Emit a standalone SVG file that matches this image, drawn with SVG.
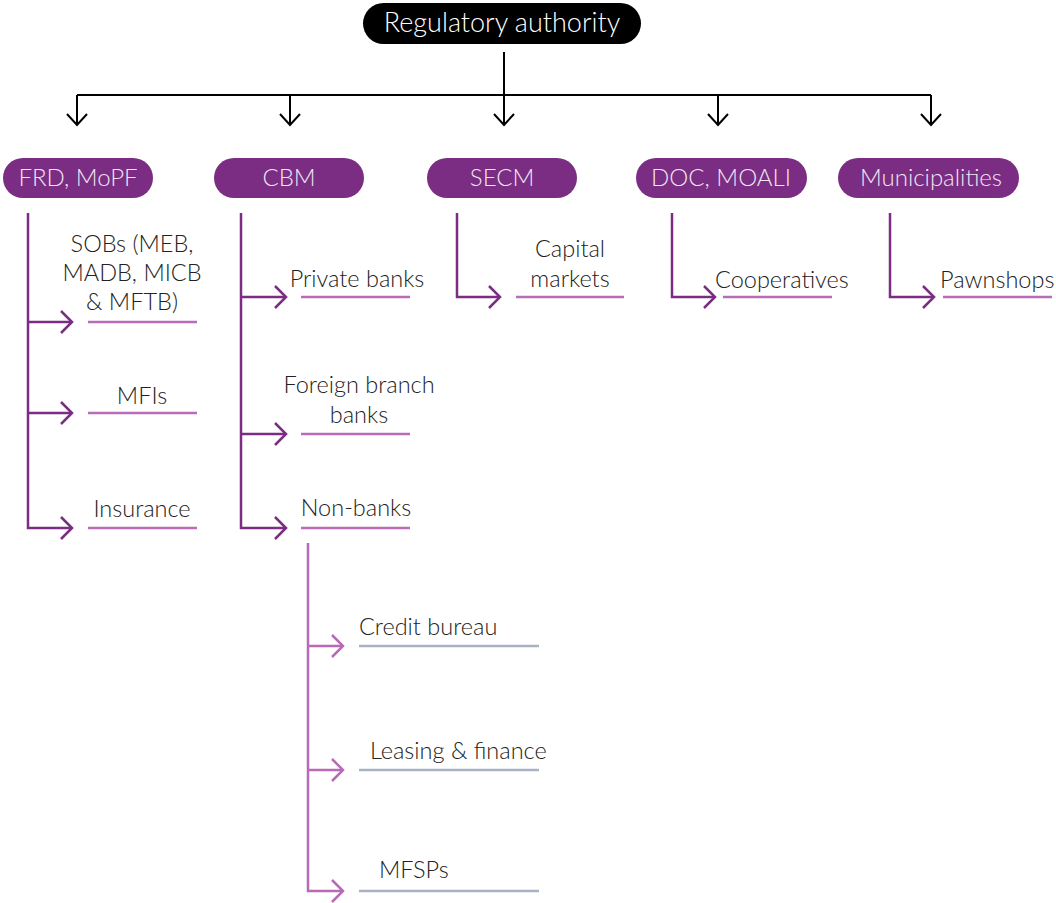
<svg xmlns="http://www.w3.org/2000/svg" width="1056" height="903" viewBox="0 0 1056 903">
<defs>
<style>
.bg{fill:#ffffff}
.pill{fill:#7a2d82}
.ptxt{font-family:Lato,"Open Sans","Liberation Sans",sans-serif;font-weight:300;font-size:24px;fill:#f1e6f2;text-anchor:middle}
.rtxt{font-family:Lato,"Open Sans","Liberation Sans",sans-serif;font-weight:300;font-size:27px;fill:#ffffff;text-anchor:middle}
.ltxt{font-family:Lato,"Open Sans","Liberation Sans",sans-serif;font-weight:300;font-size:23.5px;fill:#222222}
.blk{fill:none;stroke:#000000;stroke-width:2}
.dp{fill:none;stroke:#7a2d82;stroke-width:2.5}
.lp{fill:none;stroke:#b86ab6;stroke-width:2.5}
.ul{fill:none;stroke:#b96cb8;stroke-width:2.5}
.ug{fill:none;stroke:#a9b2c2;stroke-width:2.5}
</style>
</defs>
<rect class="bg" x="0" y="0" width="1056" height="903"/>

<g id="connectors">
  <path class="blk" d="M504 52 V125 M77 95 H931 M77 95 V125 M290 95 V125 M718 95 V125 M931 95 V125"/>
  <path class="blk" d="M67 114 L77 125 L87 114 M280 114 L290 125 L300 114 M494 114 L504 125 L514 114 M708 114 L718 125 L728 114 M921 114 L931 125 L941 114"/>
  <path class="dp" d="M28 213 V528 H72 M28 322 H72 M28 413 H72"/>
  <path class="dp" d="M61 311 L72 322 L61 333 M61 402 L72 413 L61 424 M61 517 L72 528 L61 539"/>
  <path class="dp" d="M241 213 V528 H286 M241 297 H286 M241 434 H286"/>
  <path class="dp" d="M275 286 L286 297 L275 308 M275 423 L286 434 L275 445 M275 517 L286 528 L275 539"/>
  <path class="dp" d="M457 213 V297 H500"/>
  <path class="dp" d="M489 286 L500 297 L489 308"/>
  <path class="dp" d="M672 213 V297 H715"/>
  <path class="dp" d="M704 286 L715 297 L704 308"/>
  <path class="dp" d="M890 213 V297 H934"/>
  <path class="dp" d="M923 286 L934 297 L923 308"/>
  <path class="lp" d="M308 543 V891 H343 M308 646 H343 M308 770 H343"/>
  <path class="lp" d="M332 635 L343 646 L332 657 M332 759 L343 770 L332 781 M332 880 L343 891 L332 902"/>
  <path class="ul" d="M88 322 H197 M88 413 H197 M88 528 H197 M301 297 H410 M301 434 H410 M301 528 H410 M516 297 H624 M723 297 H832 M943 297 H1052"/>
  <path class="ug" d="M359 646 H539 M359 770 H539 M359 891 H539"/>
</g>

<g id="regulatory-authority">
  <rect x="363" y="3" width="278" height="41" rx="20.5" fill="#000000"/>
  <text class="rtxt" x="502" y="32">Regulatory authority</text>
</g>
<g id="frd-mopf">
  <rect class="pill" x="3" y="158" width="150" height="40" rx="20"/>
  <text class="ptxt" x="78" y="186">FRD, MoPF</text>
</g>
<g id="cbm">
  <rect class="pill" x="214" y="158" width="150" height="40" rx="20"/>
  <text class="ptxt" x="289" y="186">CBM</text>
</g>
<g id="secm">
  <rect class="pill" x="427" y="158" width="150" height="40" rx="20"/>
  <text class="ptxt" x="502" y="186">SECM</text>
</g>
<g id="doc-moali">
  <rect class="pill" x="636" y="158" width="171" height="40" rx="20"/>
  <text class="ptxt" x="721" y="186">DOC, MOALI</text>
</g>
<g id="municipalities">
  <rect class="pill" x="838" y="158" width="181" height="40" rx="20"/>
  <text class="ptxt" x="931" y="186">Municipalities</text>
</g>

<g id="sobs">
  <text class="ltxt" text-anchor="middle"><tspan x="132" y="252">SOBs (MEB,</tspan><tspan x="132" y="281">MADB, MICB</tspan><tspan x="132" y="310">&amp; MFTB)</tspan></text>
</g>
<g id="mfis"><text class="ltxt" text-anchor="middle" x="142" y="404">MFIs</text></g>
<g id="insurance"><text class="ltxt" text-anchor="middle" x="142" y="517">Insurance</text></g>
<g id="private-banks"><text class="ltxt" text-anchor="middle" x="357" y="287">Private banks</text></g>
<g id="foreign-branch-banks">
  <text class="ltxt" text-anchor="middle"><tspan x="359" y="393">Foreign branch</tspan><tspan x="359" y="423">banks</tspan></text>
</g>
<g id="non-banks"><text class="ltxt" text-anchor="middle" x="356" y="516">Non-banks</text></g>
<g id="capital-markets">
  <text class="ltxt" text-anchor="middle"><tspan x="570" y="257">Capital</tspan><tspan x="570" y="287">markets</tspan></text>
</g>
<g id="cooperatives"><text class="ltxt" x="715" y="288">Cooperatives</text></g>
<g id="pawnshops"><text class="ltxt" x="940" y="288">Pawnshops</text></g>
<g id="credit-bureau"><text class="ltxt" x="359" y="635">Credit bureau</text></g>
<g id="leasing-finance"><text class="ltxt" x="370" y="759">Leasing &amp; finance</text></g>
<g id="mfsps"><text class="ltxt" x="379" y="878">MFSPs</text></g>
</svg>
